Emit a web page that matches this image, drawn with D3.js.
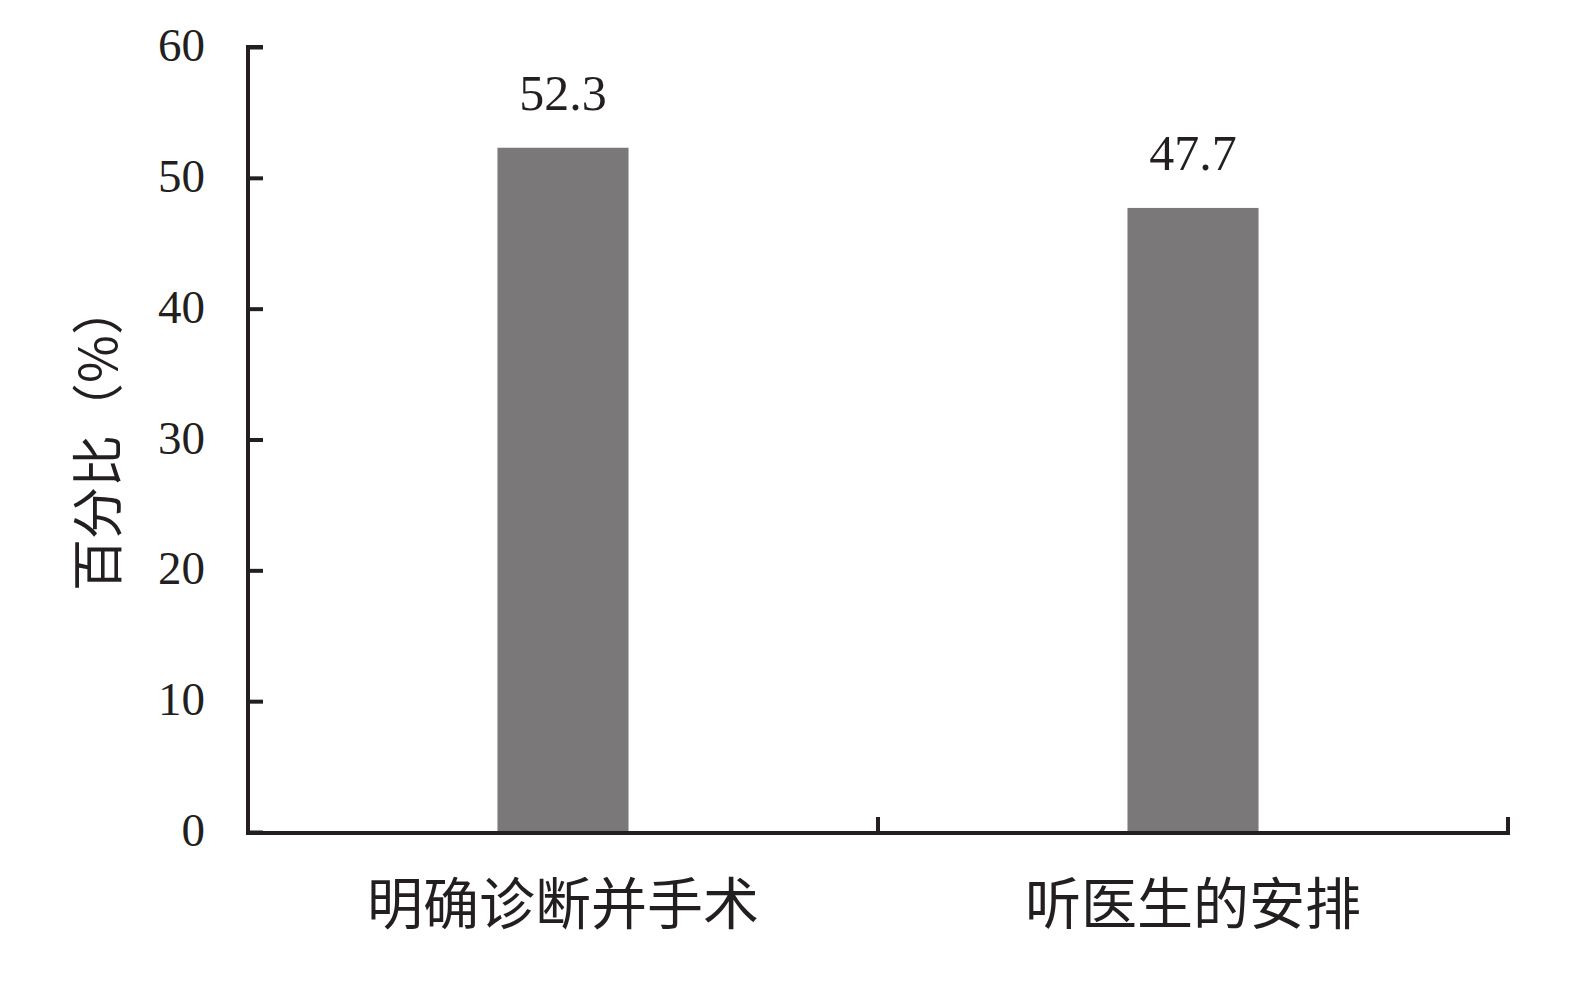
<!DOCTYPE html>
<html><head><meta charset="utf-8">
<script src="https://cdn.jsdelivr.net/npm/d3@7"></script>
<style>body{margin:0;background:#fff;} svg{display:block;}</style>
</head><body>
<script>
const categories = ["明确诊断并手术", "听医生的安排"];
const values = [52.3, 47.7];
const yTicks = [0, 10, 20, 30, 40, 50, 60];
const yTitle = "百分比（%）";

const W = 1575, H = 1004;
const ink = "#231f20";
const svg = d3.select("body").append("svg").attr("width", W).attr("height", H);

const x = d3.scaleBand().domain(categories).range([248, 1508]).padding(0);
const y = d3.scaleLinear().domain([0, 60]).range([832, 47]);
const barW = x.bandwidth() * 0.208;

// bars
svg.selectAll("rect.bar").data(values).enter().append("rect")
  .attr("x", (d, i) => x(categories[i]) + x.bandwidth() / 2 - barW / 2)
  .attr("y", d => y(d))
  .attr("width", barW)
  .attr("height", d => y(0) - y(d))
  .attr("fill", "#7a7879");

// value labels
svg.selectAll("text.val").data(values).enter().append("text")
  .attr("x", (d, i) => x(categories[i]) + x.bandwidth() / 2)
  .attr("y", d => y(d) - 38)
  .attr("text-anchor", "middle")
  .attr("font-family", "Liberation Serif, serif")
  .attr("font-size", 50)
  .attr("fill", ink)
  .text(d => d.toFixed(1));

// y axis
const yAxis = d3.axisRight(y).tickValues(yTicks).tickSize(15).tickFormat("");
const gy = svg.append("g").attr("transform", "translate(248,0)").call(yAxis);
gy.select(".domain").attr("stroke", ink).attr("stroke-width", 4).attr("d", `M15,${y(60)}H0V${y(0)+2}`);
gy.selectAll(".tick line").attr("stroke", ink).attr("stroke-width", 4);

svg.selectAll("text.ytl").data(yTicks).enter().append("text")
  .attr("x", 205)
  .attr("y", d => y(d))
  .attr("dy", "0.3em")
  .attr("text-anchor", "end")
  .attr("font-family", "Liberation Serif, serif")
  .attr("font-size", 47)
  .attr("fill", ink)
  .text(d => d);

// x axis
const bounds = [...categories.map(c => x(c)), x.range()[1]];
svg.append("line").attr("x1", 246).attr("x2", 1510).attr("y1", y(0) + 1).attr("y2", y(0) + 1)
  .attr("stroke", ink).attr("stroke-width", 4);
svg.selectAll("line.xt").data(bounds.slice(1)).enter().append("line")
  .attr("x1", d => d).attr("x2", d => d)
  .attr("y1", y(0) + 1).attr("y2", y(0) - 15)
  .attr("stroke", ink).attr("stroke-width", 4);

svg.selectAll("text.xl").data(categories).enter().append("text")
  .attr("x", d => x(d) + x.bandwidth() / 2)
  .attr("y", 924)
  .attr("text-anchor", "middle")
  .attr("font-family", "Noto Sans CJK SC, sans-serif")
  .attr("font-size", 56)
  .attr("fill", ink)
  .text(d => d);

// y title
svg.append("text")
  .attr("transform", `translate(117,437) rotate(-90)`)
  .attr("text-anchor", "middle")
  .attr("font-family", "Noto Sans CJK SC, sans-serif")
  .attr("font-size", 52)
  .attr("fill", ink)
  .text(yTitle);
</script>
</body></html>
